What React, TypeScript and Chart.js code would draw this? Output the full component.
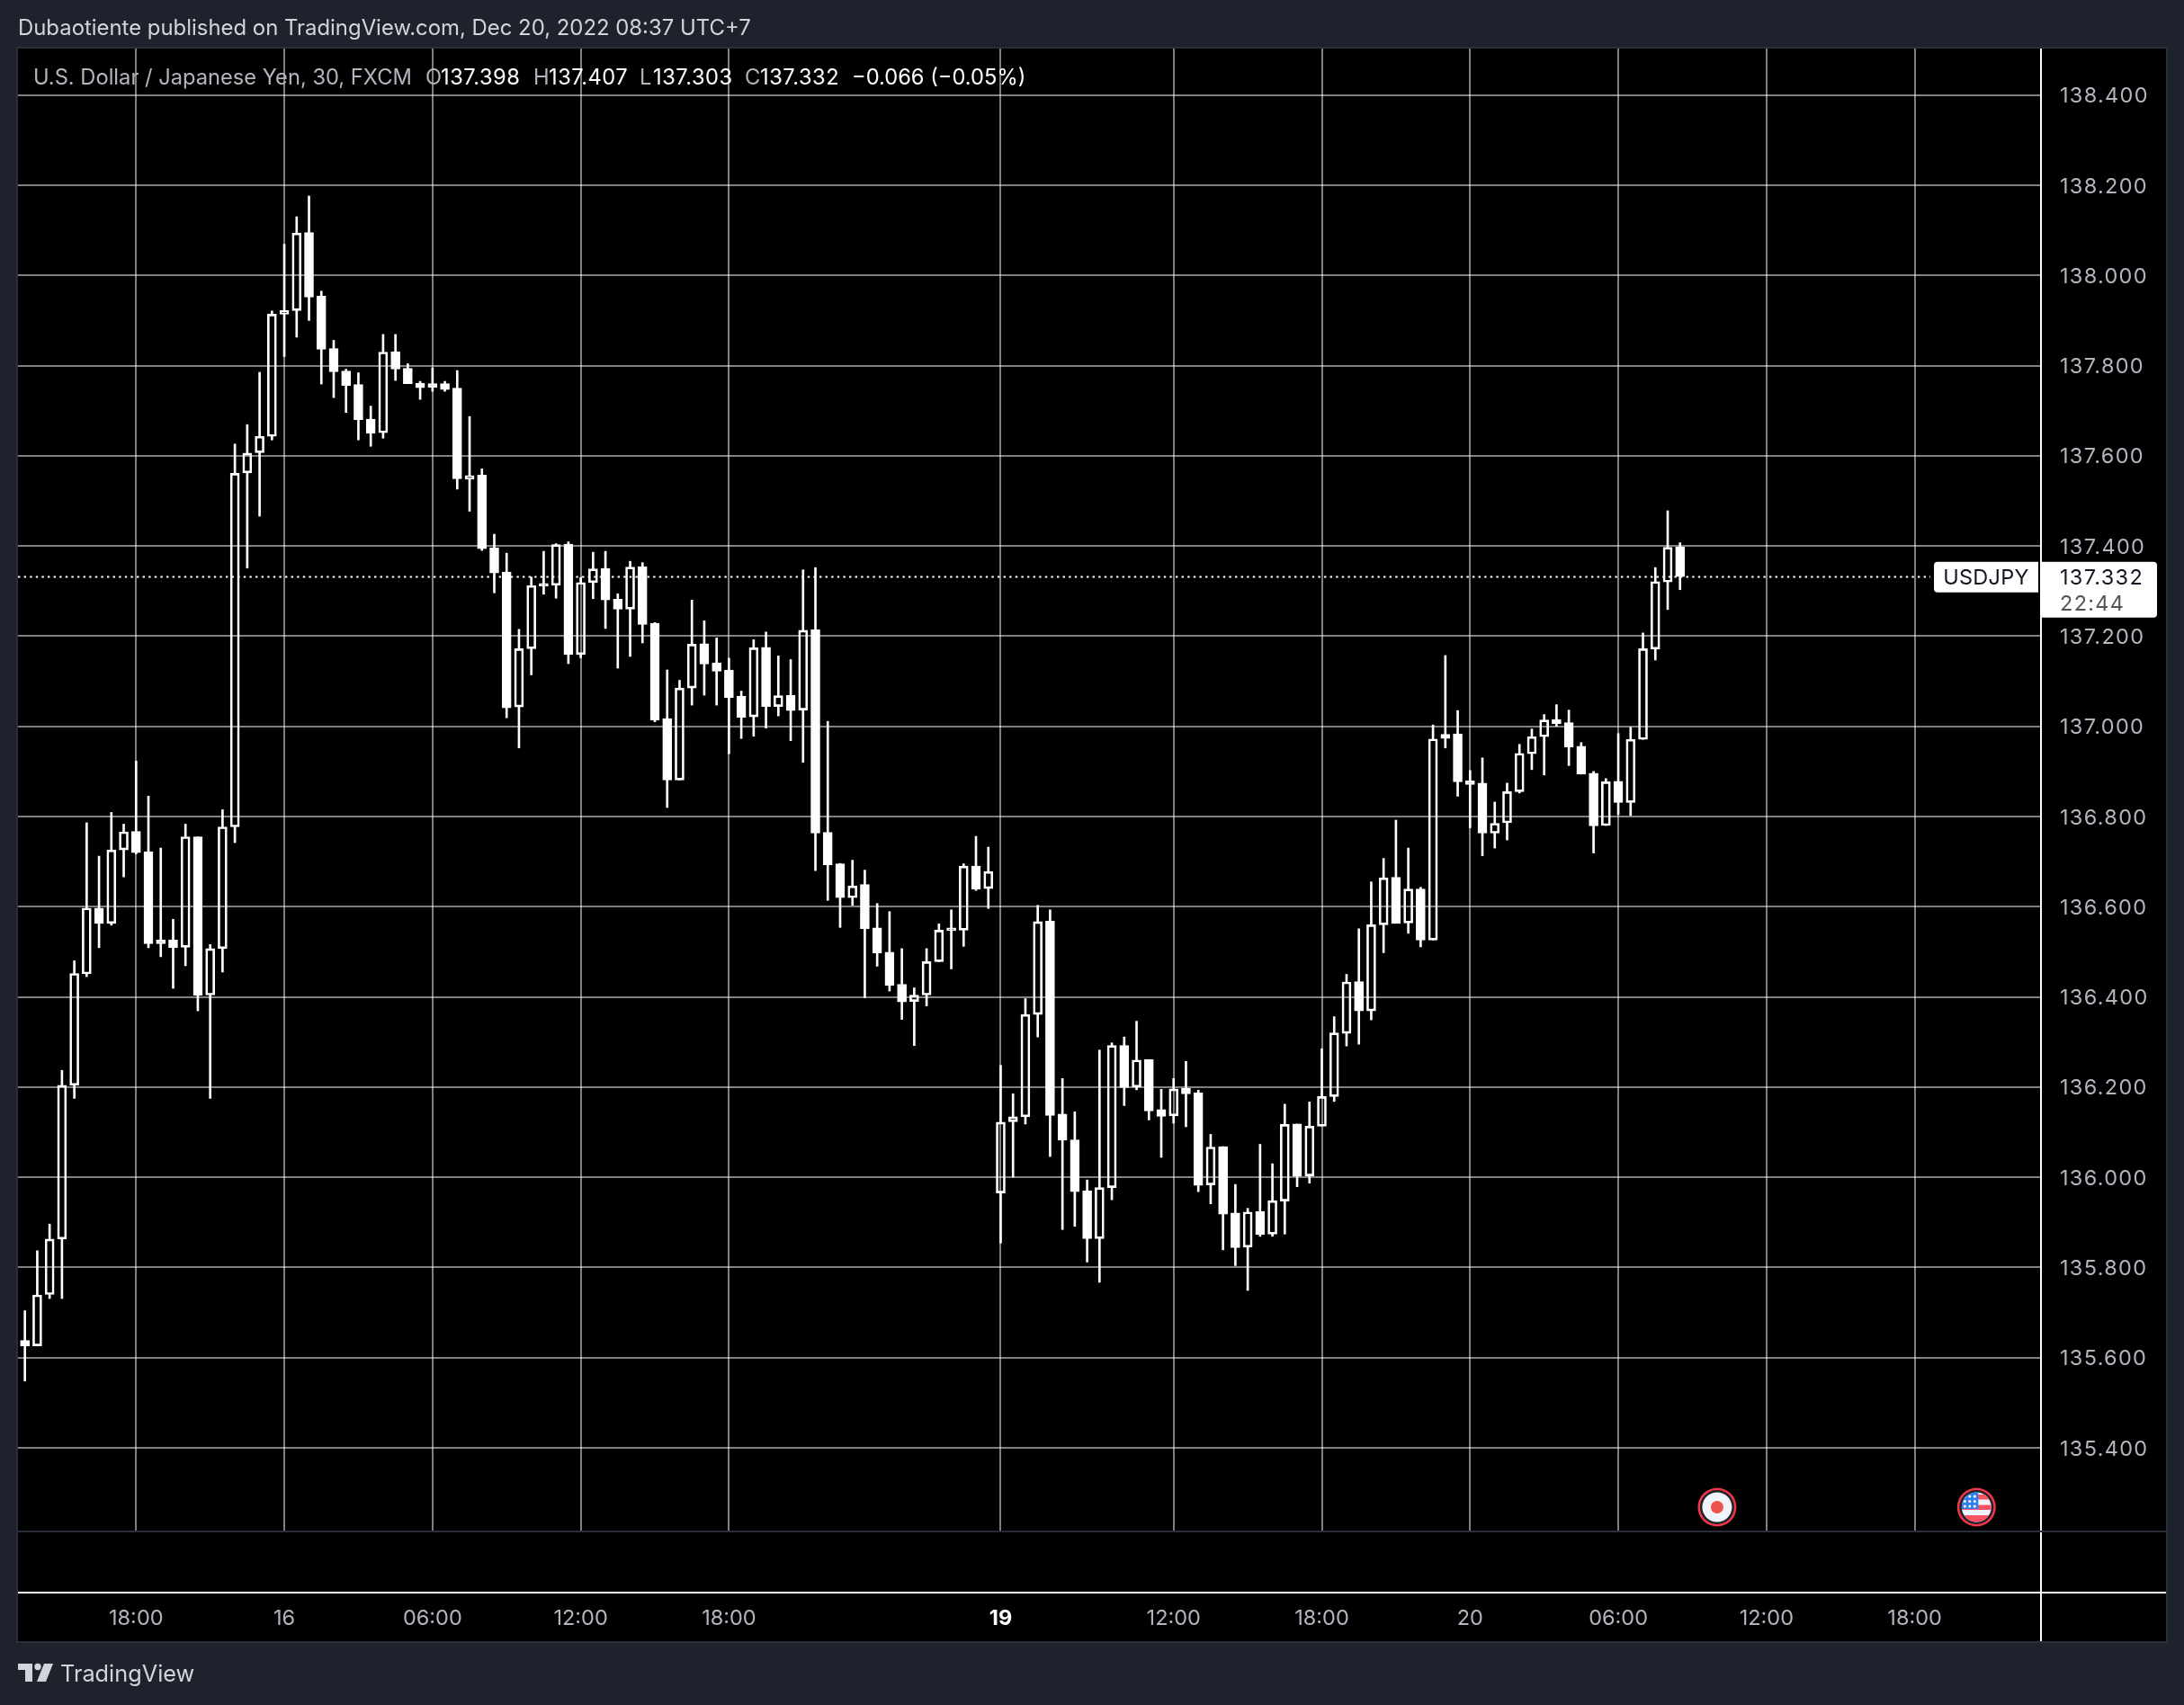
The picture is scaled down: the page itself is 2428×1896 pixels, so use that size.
import React, { useEffect, useRef } from "react";
import { Chart, registerables } from "chart.js";

Chart.register(...registerables);

const opens = [135.638,135.626,135.740,135.863,136.204,136.451,136.597,136.563,136.726,136.767,136.722,136.526,136.526,136.510,136.755,136.404,136.507,136.777,137.562,137.607,137.643,137.914,137.922,138.095,137.954,137.838,137.788,137.758,137.681,137.651,137.831,137.794,137.761,137.760,137.760,137.750,137.548,137.557,137.396,137.342,137.043,137.172,137.311,137.313,137.404,137.159,137.319,137.350,137.282,137.260,137.354,137.228,137.017,136.881,137.085,137.183,137.141,137.125,137.067,137.021,137.175,137.044,137.069,137.036,137.214,136.765,136.695,136.620,136.649,136.553,136.499,136.428,136.390,136.404,136.478,136.547,136.548,136.690,136.640,135.965,136.123,136.134,136.361,136.568,136.140,136.083,135.970,135.864,135.977,136.292,136.200,136.261,136.150,136.136,136.197,136.187,135.983,136.068,135.921,135.845,135.924,135.874,135.947,136.118,136.003,136.113,136.179,136.319,136.434,136.369,136.560,136.665,136.564,136.639,136.526,136.973,136.983,136.879,136.874,136.763,136.786,136.855,136.939,136.977,137.015,137.008,136.956,136.896,136.780,136.878,136.831,136.971,137.171,137.320,137.398];
const highs = [135.704,135.837,135.896,136.237,136.480,136.786,136.712,136.809,136.783,136.923,136.845,136.730,136.572,136.783,136.755,136.516,136.815,137.626,137.669,137.785,137.921,138.069,138.130,138.176,137.965,137.856,137.792,137.784,137.710,137.869,137.869,137.804,137.765,137.795,137.765,137.789,137.687,137.571,137.426,137.384,137.215,137.331,137.388,137.405,137.409,137.330,137.386,137.388,137.294,137.366,137.363,137.230,137.125,137.102,137.280,137.234,137.196,137.151,137.078,137.192,137.209,137.156,137.148,137.347,137.352,137.011,136.696,136.703,136.681,136.607,136.589,136.507,136.420,136.507,136.562,136.593,136.695,136.756,136.732,136.248,136.185,136.396,136.603,136.593,136.219,136.145,135.994,136.282,136.298,136.311,136.346,136.261,136.195,136.219,136.257,136.193,136.095,136.068,135.984,135.931,136.073,136.030,136.162,136.118,136.167,136.285,136.356,136.450,136.551,136.655,136.707,136.792,136.730,136.643,137.003,137.157,137.035,136.902,136.930,136.832,136.874,136.960,136.994,137.026,137.048,137.036,136.964,136.900,136.884,136.984,136.998,137.207,137.352,137.478,137.407];
const lows = [135.548,135.626,135.731,135.731,136.175,136.445,136.509,136.559,136.666,136.717,136.509,136.489,136.419,136.469,136.369,136.175,136.455,136.742,137.351,137.466,137.635,137.820,137.863,137.900,137.759,137.729,137.696,137.635,137.621,137.639,137.767,137.760,137.725,137.743,137.743,137.526,137.477,137.390,137.296,137.019,136.952,137.114,137.293,137.284,137.139,137.152,137.283,137.217,137.129,137.155,137.185,137.010,136.820,136.881,137.047,137.069,137.047,136.939,136.973,136.978,136.996,137.023,136.968,136.920,136.680,136.614,136.554,136.603,136.398,136.468,136.413,136.350,136.292,136.380,136.478,136.462,136.512,136.636,136.596,135.854,136.000,136.118,136.311,136.046,135.884,135.891,135.812,135.767,135.950,136.159,136.194,136.127,136.044,136.120,136.112,135.968,135.941,135.839,135.804,135.749,135.869,135.869,135.874,135.979,135.987,136.113,136.168,136.291,136.295,136.349,136.498,136.563,136.541,136.511,136.526,136.952,136.845,136.775,136.713,136.730,136.748,136.852,136.904,136.892,137.000,136.913,136.894,136.719,136.780,136.804,136.802,136.971,137.147,137.259,137.303];
const closes = [135.626,135.739,135.863,136.204,136.452,136.597,136.563,136.726,136.766,136.720,136.518,136.518,136.509,136.755,136.403,136.507,136.777,137.561,137.606,137.643,137.914,137.922,138.094,137.952,137.836,137.786,137.756,137.680,137.650,137.830,137.792,137.760,137.751,137.752,137.747,137.549,137.556,137.394,137.340,137.041,137.172,137.312,137.313,137.403,137.159,137.319,137.349,137.280,137.260,137.353,137.226,137.014,136.881,137.085,137.182,137.138,137.122,137.064,137.020,137.174,137.044,137.068,137.035,137.213,136.763,136.693,136.620,136.646,136.551,136.497,136.425,136.389,136.404,136.478,136.548,136.549,136.690,136.639,136.678,136.122,136.134,136.361,136.567,136.137,136.082,135.968,135.864,135.977,136.292,136.199,136.260,136.147,136.135,136.196,136.185,135.982,136.067,135.918,135.844,135.923,135.873,135.948,136.117,136.002,136.113,136.179,136.320,136.433,136.369,136.560,136.664,136.563,136.639,136.526,136.972,136.982,136.877,136.871,136.763,136.785,136.855,136.940,136.977,137.014,137.006,136.954,136.894,136.779,136.877,136.831,136.971,137.172,137.321,137.397,137.332];

const priceTicks = [135.4,135.6,135.8,136.0,136.2,136.4,136.6,136.8,137.0,137.2,137.4,137.6,137.8,138.0,138.2,138.4];
const timeTickIndex = [9,21,33,45,57,79,93,105,117,129,141,153];
const timeTickLabel = ["18:00","16","06:00","12:00","18:00","19","12:00","18:00","20","06:00","12:00","18:00"];
const boldTimeLabels = ["19"];
const eventIndex = [137, 158];
const symbol = "USDJPY";
const countdown = "22:44";
const headerText = "Dubaotiente published on TradingView.com, Dec 20, 2022 08:37 UTC+7";

const FONT = "Inter, 'Noto Sans', sans-serif";
const W = 2428, H = 1896;
const PANEL = { l: 20, t: 54, r: 2408, b: 1825 };
const PAGE = "#1e222d", BORDER = "#2a2e39", MUTED = "#b2b5be", LIGHT = "#d1d4dc";

function drawFlag(c: CanvasRenderingContext2D, x: number, y: number) {
  c.save();
  c.beginPath(); c.arc(x, y, 16.5, 0, Math.PI * 2); c.clip();
  c.fillStyle = "#f0f3fa"; c.fillRect(x - 17, y - 17, 34, 34);
  c.fillStyle = "#f7525f";
  [-14, -2.5, 9].forEach((d) => c.fillRect(x - 17, y + d, 34, 5.5));
  c.fillRect(x - 17, y + 9, 34, 9);
  c.fillStyle = "#2f80ed"; c.fillRect(x - 17, y - 17, 19, 19);
  c.fillStyle = "#ffffff";
  for (let a = 0; a < 3; a++) for (let b = 0; b < 3; b++) {
    c.beginPath(); c.arc(x - 13 + a * 5.5, y - 12 + b * 5.5, 1.5, 0, Math.PI * 2); c.fill();
  }
  c.restore();
}

const chrome = {
  id: "chrome",
  beforeDraw(chart: any) {
    const c = chart.ctx as any;
    c.save();
    c.fillStyle = PAGE; c.fillRect(0, 0, W, H);
    c.fillStyle = "#000"; c.fillRect(PANEL.l, PANEL.t, PANEL.r - PANEL.l, PANEL.b - PANEL.t);
    c.strokeStyle = BORDER; c.lineWidth = 2;
    c.strokeRect(PANEL.l - 1, PANEL.t - 1, PANEL.r - PANEL.l + 2, PANEL.b - PANEL.t + 2);
    c.restore();
  },
  beforeDatasetsDraw(chart: any) {
    const c = chart.ctx as CanvasRenderingContext2D;
    const y = Math.round(chart.scales.y.getPixelForValue(closes[closes.length - 1])) + 0.5;
    c.save();
    c.strokeStyle = "#fff"; c.lineWidth = 2; c.setLineDash([2.4, 4.2]);
    c.beginPath(); c.moveTo(PANEL.l, y); c.lineTo(2146, y); c.stroke();
    c.restore();
  },
  afterDraw(chart: any) {
    const c = chart.ctx as any;
    const { x: xs, y: ys } = chart.scales;
    const last = closes[closes.length - 1];
    const py = ys.getPixelForValue(last);
    c.save();
    c.fillStyle = "#fff"; c.fillRect(PANEL.l, 1770, PANEL.r - PANEL.l, 2);
    c.fillRect(2268, PANEL.t, 2, PANEL.b - PANEL.t);
    c.fillStyle = BORDER; c.fillRect(PANEL.l, 1702, PANEL.r - PANEL.l, 2);
    // header
    c.letterSpacing = "0px";
    c.textBaseline = "middle"; c.textAlign = "left";
    c.font = `23.9px ${FONT}`; c.fillStyle = LIGHT;
    c.fillText(headerText, 20, 31.5);
    // legend
    c.font = `23.7px ${FONT}`;
    const pieces: [string, number, string, string][] = [
      ["U.S. Dollar / Japanese Yen, 30, FXCM", 37, MUTED, "0px"],
      ["O", 473, MUTED, "0px"], [opens[opens.length - 1].toFixed(3), 490, "#fff", "0.5px"],
      ["H", 593, MUTED, "0px"], [highs[highs.length - 1].toFixed(3), 610, "#fff", "0.5px"],
      ["L", 711, MUTED, "0px"], [lows[lows.length - 1].toFixed(3), 726, "#fff", "0.5px"],
      ["C", 828, MUTED, "0px"], [last.toFixed(3), 845, "#fff", "0.5px"],
      ["\u22120.066 (\u22120.05%)", 947, "#fff", "0px"],
    ];
    pieces.forEach(([t, x, col, ls]) => { c.letterSpacing = ls; c.fillStyle = col; c.fillText(t, x, 86.5); });
    // symbol and price labels
    c.fillStyle = "#fff";
    c.beginPath(); c.roundRect(2150, py - 16.5, 116, 34, [4, 0, 0, 4]); c.fill();
    c.beginPath(); c.roundRect(2270, py - 16.5, 128, 62, [0, 4, 4, 0]); c.fill();
    c.fillStyle = "#131722"; c.textAlign = "center"; c.font = `23.5px ${FONT}`;
    c.letterSpacing = "0.3px";
    c.fillText(symbol, 2208, py + 1.5);
    c.textAlign = "left";
    c.letterSpacing = "1.3px";
    c.fillText(last.toFixed(3), 2290, py + 1.5);
    c.fillStyle = "#555"; c.fillText(countdown, 2290, py + 30.5);
    c.letterSpacing = "0px";
    // events
    eventIndex.forEach((idx, n) => {
      const x = xs.getPixelForValue(idx), y = 1676;
      c.fillStyle = "#f23645"; c.beginPath(); c.arc(x, y, 21.5, 0, Math.PI * 2); c.fill();
      c.fillStyle = PAGE; c.beginPath(); c.arc(x, y, 19, 0, Math.PI * 2); c.fill();
      if (n === 0) {
        c.fillStyle = "#f0f3fa"; c.beginPath(); c.arc(x, y, 16.5, 0, Math.PI * 2); c.fill();
        c.fillStyle = "#ef5350"; c.beginPath(); c.arc(x, y, 7, 0, Math.PI * 2); c.fill();
      } else drawFlag(c, x, y);
    });
    // footer logo
    c.fillStyle = LIGHT;
    c.beginPath(); c.moveTo(20, 1850); c.lineTo(36, 1850); c.lineTo(36, 1870); c.lineTo(28, 1870); c.lineTo(28, 1857); c.lineTo(20, 1857); c.closePath(); c.fill();
    c.beginPath(); c.arc(42, 1853.5, 3.7, 0, Math.PI * 2); c.fill();
    c.beginPath(); c.moveTo(49, 1850); c.lineTo(59, 1850); c.lineTo(51, 1870); c.lineTo(41, 1870); c.closePath(); c.fill();
    c.font = `25.3px ${FONT}`; c.textAlign = "left";
    c.fillText("TradingView", 67, 1862.5);
    c.restore();
  },
};

export default function App() {
  const ref = useRef<HTMLCanvasElement>(null);
  useEffect(() => {
    document.body.style.margin = "0";
    document.body.style.background = PAGE;
    const pts = (f: (i: number) => [number, number]) => opens.map((_, i) => ({ x: i, y: f(i) }));
    const chart = new Chart(ref.current!, {
      type: "bar",
      data: {
        datasets: [
          { data: pts((i) => [Math.max(opens[i], closes[i]), highs[i]]), backgroundColor: "#fff", borderWidth: 0, barThickness: 2, grouped: false },
          { data: pts((i) => [lows[i], Math.min(opens[i], closes[i])]), backgroundColor: "#fff", borderWidth: 0, barThickness: 2, grouped: false },
          {
            data: pts((i) => [opens[i], closes[i]]),
            backgroundColor: opens.map((o, i) => (closes[i] >= o ? "rgba(0,0,0,0)" : "#fff")),
            borderColor: "#fff", borderWidth: 2, borderSkipped: false, barThickness: 10, minBarLength: 3, grouped: false,
          },
        ] as any,
      },
      plugins: [chrome],
      options: {
        animation: false,
        responsive: false,
        devicePixelRatio: 1,
        layout: { padding: { left: PANEL.l, top: PANEL.t, right: W - PANEL.r, bottom: 0 } },
        plugins: { legend: { display: false }, tooltip: { enabled: false } },
        scales: {
          x: {
            type: "linear", offset: false, min: -0.56, max: 163.15,
            afterBuildTicks: (s: any) => { s.ticks = timeTickIndex.map((value) => ({ value })); },
            afterFit: (s: any) => { s.height = H - 1702; },
            grid: { offset: false, color: "rgba(255,255,255,0.5)", lineWidth: 2, drawTicks: false },
            border: { display: false },
            ticks: {
              autoSkip: false, maxRotation: 0, padding: 84,
              callback: (v: any) => timeTickLabel[timeTickIndex.indexOf(v)] ?? "",
              color: (ctx: any) => (boldTimeLabels.includes(ctx.tick?.label) ? "#fff" : MUTED),
              font: (ctx: any) => ({ family: FONT, size: 23.5, weight: boldTimeLabels.includes(ctx.tick?.label) ? "bold" : "normal" }),
            },
          },
          y: {
            type: "linear", position: "right", beginAtZero: false, min: 135.2165, max: 138.503,
            afterBuildTicks: (s: any) => { s.ticks = priceTicks.map((value) => ({ value })); },
            afterFit: (s: any) => { s.width = 140; },
            afterUpdate: (s: any) => {
              const compute = s._computeLabelItems.bind(s);
              s._computeLabelItems = (a: any) => compute(a).map((it: any) => ({ ...it, textOffset: it.textOffset + 0.8 }));
              const draw = s.drawLabels.bind(s);
              s.drawLabels = (a: any) => { s.ctx.letterSpacing = "1.3px"; draw(a); s.ctx.letterSpacing = "0px"; };
            },
            grid: { offset: false, color: "rgba(255,255,255,0.5)", lineWidth: 2, drawTicks: false },
            border: { display: false },
            ticks: {
              padding: 22, color: MUTED, autoSkip: false,
              callback: (v: any) => Number(v).toFixed(3),
              font: { family: FONT, size: 23.5 },
            },
          },
        },
      } as any,
    });
    return () => chart.destroy();
  }, []);
  return <canvas ref={ref} width={W} height={H} style={{ display: "block", width: W, height: H }} />;
}
